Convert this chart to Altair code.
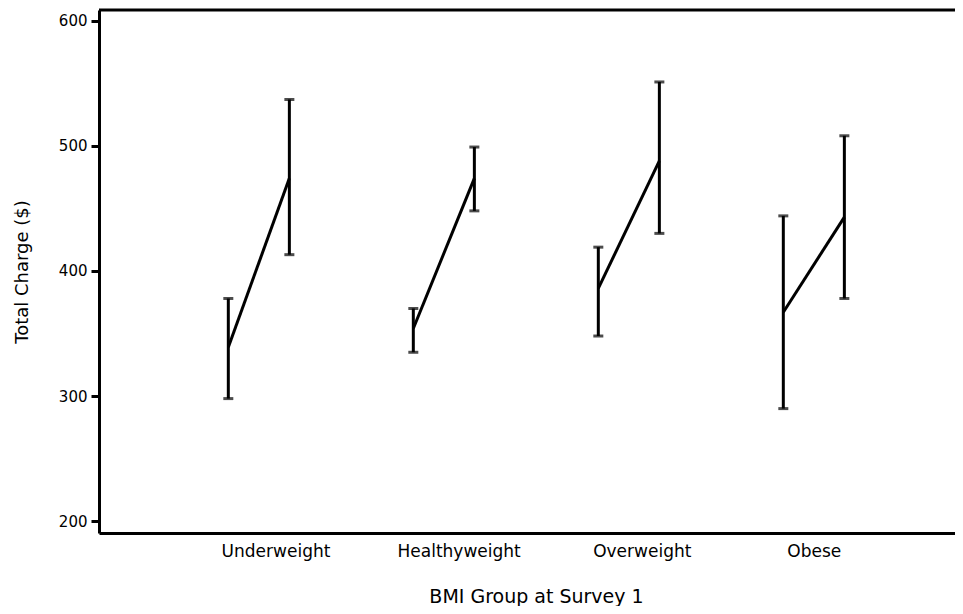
import altair as alt
import pandas as pd

groups = ["Underweight", "Healthyweight", "Overweight", "Obese"]
survey1_mean = [339, 354, 386, 367]
survey1_low = [298, 335, 348, 290]
survey1_high = [378, 370, 419, 444]
survey2_mean = [474, 474, 488, 443]
survey2_low = [413, 448, 430, 378]
survey2_high = [537, 499, 551, 508]

offset = 0.165
rows = []
for i, g in enumerate(groups):
    rows.append(dict(group=g, survey=1, pos=i + 1 - offset,
                     mean=survey1_mean[i], lo=survey1_low[i], hi=survey1_high[i]))
    rows.append(dict(group=g, survey=2, pos=i + 1 + offset,
                     mean=survey2_mean[i], lo=survey2_low[i], hi=survey2_high[i]))
df = pd.DataFrame(rows)

FONT = "DejaVu Sans"
PAD_L, PAD_T, PAD_B = 91, 2, 73
W, H = 856, 523

label_expr = "[''," + ",".join("'%s'" % g for g in groups) + "][round(datum.value)]"

xscale = alt.Scale(domain=[0.136, 0.136 + W / 185.0], nice=False, zero=False)
yscale = alt.Scale(domain=[190.6, 608.5], nice=False, zero=False)

xaxis = alt.Axis(values=[1.09, 2.08, 3.07, 4.0], labelExpr=label_expr, ticks=False,
                 tickSize=0, labelPadding=10, labelFontSize=17, labelFont=FONT,
                 labelColor="black", domainColor="black", domainWidth=3, grid=False,
                 title="BMI Group at Survey 1", titleFont=FONT, titleFontSize=19,
                 titleFontWeight="normal", titleColor="black", titleX=437, titleY=69,
                 titleBaseline="alphabetic", titleAlign="center", labelFlush=False)
yaxis = alt.Axis(values=[200, 300, 400, 500, 600], tickSize=8, tickWidth=3,
                 tickColor="black", labelPadding=4, labelFontSize=15, labelFont=FONT,
                 labelColor="black", domainColor="black", domainWidth=3, grid=False,
                 title="Total Charge ($)", titleFont=FONT, titleFontSize=18,
                 titleFontWeight="normal", titleColor="black", titleAngle=270,
                 titleX=-77, titleY=H / 2, titleAlign="center", titleBaseline="middle")

base = alt.Chart(df)

bars = base.mark_rule(color="black", strokeWidth=3).encode(
    x=alt.X("pos:Q", scale=xscale, axis=xaxis),
    y=alt.Y("lo:Q", scale=yscale, axis=yaxis),
    y2="hi:Q",
)
caps_lo = base.mark_tick(color="black", thickness=3, size=10, orient="horizontal").encode(
    x=alt.X("pos:Q", scale=xscale), y=alt.Y("lo:Q", scale=yscale))
caps_hi = base.mark_tick(color="black", thickness=3, size=10, orient="horizontal").encode(
    x=alt.X("pos:Q", scale=xscale), y=alt.Y("hi:Q", scale=yscale))
lines = base.mark_line(color="black", strokeWidth=3).encode(
    x=alt.X("pos:Q", scale=xscale), y=alt.Y("mean:Q", scale=yscale),
    detail="group:N", order="survey:Q")
top = alt.Chart(pd.DataFrame({"a": [0]})).mark_rule(color="black", strokeWidth=3).encode(
    x=alt.value(0), x2=alt.value(W), y=alt.value(0))

chart = alt.layer(top, bars, caps_lo, caps_hi, lines).properties(
    width=W, height=H,
    autosize=alt.AutoSizeParams(type="none"),
    padding={"left": PAD_L, "top": PAD_T, "right": 0, "bottom": PAD_B},
).configure_view(stroke=None).configure(background="white")

chart.save("out.html", embed_options={"renderer": "svg", "actions": False})
